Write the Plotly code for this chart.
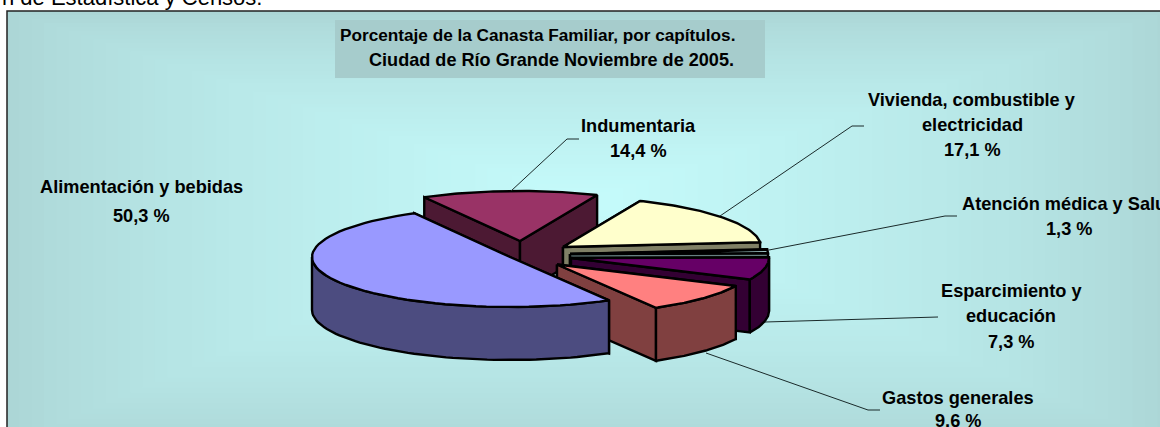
import numpy as np
import plotly.graph_objects as go

# ---- data ----
categories = ["Alimentación y bebidas", "Indumentaria", "Vivienda, combustible y electricidad",
              "Atención médica y Salud", "Esparcimiento y educación", "Gastos generales"]
values = [50.3, 14.4, 17.1, 1.3, 7.3, 9.6]
value_labels = ["50,3 %", "14,4 %", "17,1 %", "1,3 %", "7,3 %", "9,6 %"]
label_lines = [["Alimentación y bebidas"], ["Indumentaria"], ["Vivienda, combustible y", "electricidad"],
               ["Atención médica y Salud"], ["Esparcimiento y", "educación"], ["Gastos generales"]]
title_lines = ["Porcentaje de la Canasta Familiar, por capítulos.", "Ciudad de Río Grande Noviembre de 2005."]
source_text = "n de Estadística y Censos."

# ---- styling / layout ----
top_colors = ["#9999FF", "#993366", "#FFFFCC", "#CCFFFF", "#660066", "#FF8080"]
side_colors = ["#4C4C80", "#4C1933", "#808066", "#668080", "#330033", "#804040"]
centers = [(510, 257), (520, 241), (563, 247), (570, 254), (571, 258), (557, 264.5)]
label_x = [141, 638, 972, 1069, 1011, 958]
label_y = [[187, 216], [126, 151], [100, 125, 150], [204, 229], [291, 316, 342], [398, 421]]
leaders = [None,
           [(511, 191), (567, 139), (579, 139)],
           [(720, 216), (852, 126), (864, 126)],
           [(769, 250), (945, 216), (957, 216)],
           [(765, 322), (938, 317)],
           [(706, 353), (868, 410), (880, 410)]]
RX, RY, DEPTH = 198, 50, 53
START_ANGLE = 150
W, H = 1160, 427
FONT = "Liberation Sans, Arial, sans-serif"

fig = go.Figure()


def poly(xs, ys, color, lw=2.4):
    fig.add_trace(go.Scatter(x=list(xs) + [xs[0]], y=list(ys) + [ys[0]], mode="lines", fill="toself",
                             fillcolor=color, line=dict(color="#000000", width=lw),
                             hoverinfo="skip", showlegend=False))


def rim(c, t0, t1, n=60):
    t = np.radians(np.linspace(t0, t1, n))
    return c[0] + RX * np.sin(t), c[1] - RY * np.cos(t)


spans = np.array(values) / sum(values) * 360
starts = (START_ANGLE + np.concatenate([[0], np.cumsum(spans)[:-1]])) % 360
draw_order = [1, 2, 3, 4, 5, 0]

for i in draw_order:
    c = centers[i]
    a0, a1 = starts[i], starts[i] + spans[i]
    # radial walls
    for a in (a0, a1):
        rx, ry = rim(c, a, a, 1)
        poly([c[0], rx[0], rx[0], c[0]], [c[1], ry[0], ry[0] + DEPTH, c[1] + DEPTH], side_colors[i])
    # outer wall: only the part of the rim facing the viewer
    f0, f1 = max(a0, 90), min(a1, 270)
    if f1 > f0:
        x, y = rim(c, f0, f1)
        poly(np.r_[x, x[::-1]], np.r_[y, y[::-1] + DEPTH], side_colors[i])
    # top face
    x, y = rim(c, a0, a1)
    poly(np.r_[c[0], x], np.r_[c[1], y], top_colors[i])

# leader lines
for pts in leaders:
    if pts:
        fig.add_trace(go.Scatter(x=[p[0] for p in pts], y=[p[1] for p in pts], mode="lines",
                                 line=dict(color="#1a2a2a", width=1), hoverinfo="skip", showlegend=False))

# background: rectangular path gradient, drawn as nested rectangles
shapes = []
FRAME = (7, 11, 1170, 445)
GRAD_C = (586, 200)
outer = np.array([172, 214, 214])
inner = np.array([198, 252, 252])
STEPS = 48
for k in range(STEPS):
    f = k / (STEPS - 1)
    col = outer + (inner - outer) * f ** 0.72
    shapes.append(dict(type="rect", layer="below", line=dict(width=0),
                       x0=FRAME[0] + (GRAD_C[0] - FRAME[0]) * f, x1=FRAME[2] + (GRAD_C[0] - FRAME[2]) * f,
                       y0=FRAME[1] + (GRAD_C[1] - FRAME[1]) * f, y1=FRAME[3] + (GRAD_C[1] - FRAME[3]) * f,
                       fillcolor="rgb(%d,%d,%d)" % tuple(col)))
shapes.append(dict(type="rect", layer="below", x0=335, x1=765, y0=20, y1=78, fillcolor="#A6CCCC", line=dict(width=0)))
shapes.append(dict(type="rect", layer="below", x0=FRAME[0], x1=FRAME[2], y0=FRAME[1], y1=FRAME[3],
                   fillcolor="rgba(0,0,0,0)", line=dict(color="#222222", width=1.5)))

annotations = []


def text(x, y, s, size=18.2, bold=True, anchor="center", yshift=0):
    annotations.append(dict(x=x, y=y, xref="x", yref="y", text="<b>%s</b>" % s if bold else s, showarrow=False,
                            xanchor=anchor, yanchor="middle", yshift=yshift,
                            font=dict(family=FONT, size=size, color="#000000")))


for lines, val, x, ys in zip(label_lines, value_labels, label_x, label_y):
    for s, y in zip(lines + [val], ys):
        text(x, y, s)
text(537, 35, title_lines[0], size=17.2)
text(551, 60, title_lines[1], size=18.1)
text(0, 0, source_text, size=22, bold=False, anchor="left", yshift=3)

fig.update_layout(width=W, height=H, margin=dict(l=0, r=0, t=0, b=0), paper_bgcolor="#FFFFFF",
                  plot_bgcolor="#FFFFFF", shapes=shapes, annotations=annotations, showlegend=False,
                  xaxis=dict(range=[0, W], visible=False, fixedrange=True),
                  yaxis=dict(range=[H, 0], visible=False, fixedrange=True))

fig.write_html("out.html", config={"displayModeBar": False},
               post_script="document.body.style.margin='0';document.body.style.overflow='hidden';")
